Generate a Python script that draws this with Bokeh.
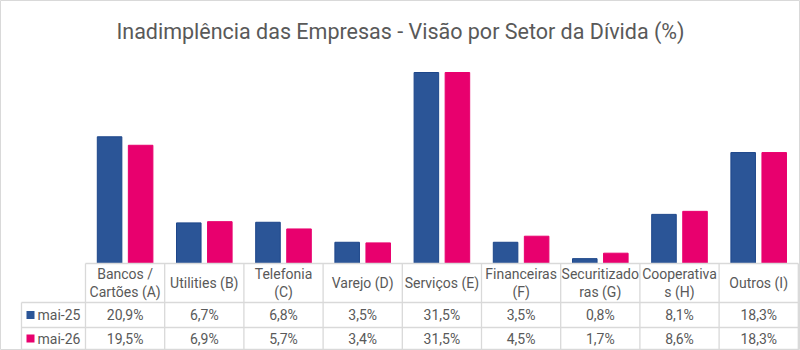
from bokeh.plotting import figure
from bokeh.models import Range1d, ColumnDataSource
from bokeh.core.properties import value
from bokeh.embed import file_html
from bokeh.resources import INLINE

# ---- data ----
categories = ["Bancos /\nCartões (A)", "Utilities (B)", "Telefonia\n(C)", "Varejo (D)",
              "Serviços (E)", "Financeiras\n(F)", "Securitizado\nras (G)",
              "Cooperativa\ns (H)", "Outros (I)"]
series_names = ["mai-25", "mai-26"]
mai25 = [20.9, 6.7, 6.8, 3.5, 31.5, 3.5, 0.8, 8.1, 18.3]
mai26 = [19.5, 6.9, 5.7, 3.4, 31.5, 4.5, 1.7, 8.6, 18.3]
title_text = "Inadimplência das Empresas - Visão por Setor da Dívida (%)"

# ---- layout (pixel geometry) ----
W, H = 800, 350
col_left_px = 85.0
col_w_px = 79.2
base_px = 263.0
px_per_unit = 6.063

x_start = -col_left_px / col_w_px
x_end = (W - col_left_px) / col_w_px
y_end = base_px / px_per_unit
y_start = -(H - base_px) / px_per_unit

def px_x(px):
    return (px - col_left_px) / col_w_px

def px_y(py):
    return (base_px - py) / px_per_unit

BLUE = "#2b5597"
PINK = "#e8006e"
GRID = "#d9d9d9"
TXT = "#595959"
FONT = value("Roboto")

p = figure(width=W, height=H, output_backend="svg", toolbar_location=None,
           x_range=Range1d(x_start, x_end), y_range=Range1d(y_start, y_end),
           min_border=0, min_border_left=0, min_border_right=0,
           min_border_top=0, min_border_bottom=0)
p.xaxis.visible = False
p.yaxis.visible = False
p.xgrid.visible = False
p.ygrid.visible = False
p.outline_line_color = GRID
p.outline_line_width = 1
p.background_fill_color = "white"
p.border_fill_color = "white"

n = len(categories)
centers = [i + 0.5 for i in range(n)]
off = 0.196
bw = 0.31

src = ColumnDataSource(dict(
    x1=[c - off for c in centers], x2=[c + off for c in centers],
    v1=mai25, v2=mai26, xc=centers, cat=categories,
    t1=[f"{v:.1f}%".replace(".", ",") for v in mai25],
    t2=[f"{v:.1f}%".replace(".", ",") for v in mai26],
))

p.vbar(x="x1", top="v1", bottom=0, width=bw, source=src,
       fill_color=BLUE, line_color="#1d468a", line_width=1)
p.vbar(x="x2", top="v2", bottom=0, width=bw, source=src,
       fill_color=PINK, line_color=PINK, line_width=1)

# ---- table ----
row1_top = px_y(302)
row2_top = px_y(327)
bottom = px_y(349)
leg_left = px_x(21)

# horizontal lines
p.segment(x0=[0, leg_left, leg_left, leg_left], y0=[0, row1_top, row2_top, bottom],
          x1=[n, n, n, n], y1=[0, row1_top, row2_top, bottom],
          line_color=GRID, line_width=1.3)
# vertical lines
vx = list(range(n + 1))
p.segment(x0=vx, y0=[0] * len(vx), x1=vx, y1=[bottom] * len(vx),
          line_color=GRID, line_width=1.3)
p.segment(x0=[leg_left], y0=[row1_top], x1=[leg_left], y1=[bottom],
          line_color=GRID, line_width=1.3)

# header text
hdr_y = (0 + row1_top) / 2
p.text(x="xc", y=hdr_y, text="cat", source=src, text_align="center",
       text_baseline="middle", text_font=FONT, text_font_size="14px",
       text_color=TXT, text_line_height=1.15)
r1y = (row1_top + row2_top) / 2
r2y = (row2_top + bottom) / 2
p.text(x="xc", y=r1y, text="t1", source=src, text_align="center",
       text_baseline="middle", text_font=FONT, text_font_size="14px", text_color=TXT)
p.text(x="xc", y=r2y, text="t2", source=src, text_align="center",
       text_baseline="middle", text_font=FONT, text_font_size="14px", text_color=TXT)

# legend keys in table
key_x = px_x(30)
kw = 8 / col_w_px
kh = 8 / px_per_unit
p.rect(x=[key_x, key_x], y=[r1y, r2y], width=kw, height=kh,
       fill_color=[BLUE, PINK], line_color=None)
p.text(x=[px_x(37)] * 2, y=[r1y, r2y], text=series_names, text_align="left",
       text_baseline="middle", text_font=FONT, text_font_size="14px", text_color=TXT)

# title
p.text(x=[px_x(400)], y=[px_y(31)], text=[title_text], text_align="center",
       text_baseline="alphabetic", text_font=FONT, text_font_size="21.5px",
       text_color=TXT)

open("out.html", "w").write(file_html(p, INLINE))
